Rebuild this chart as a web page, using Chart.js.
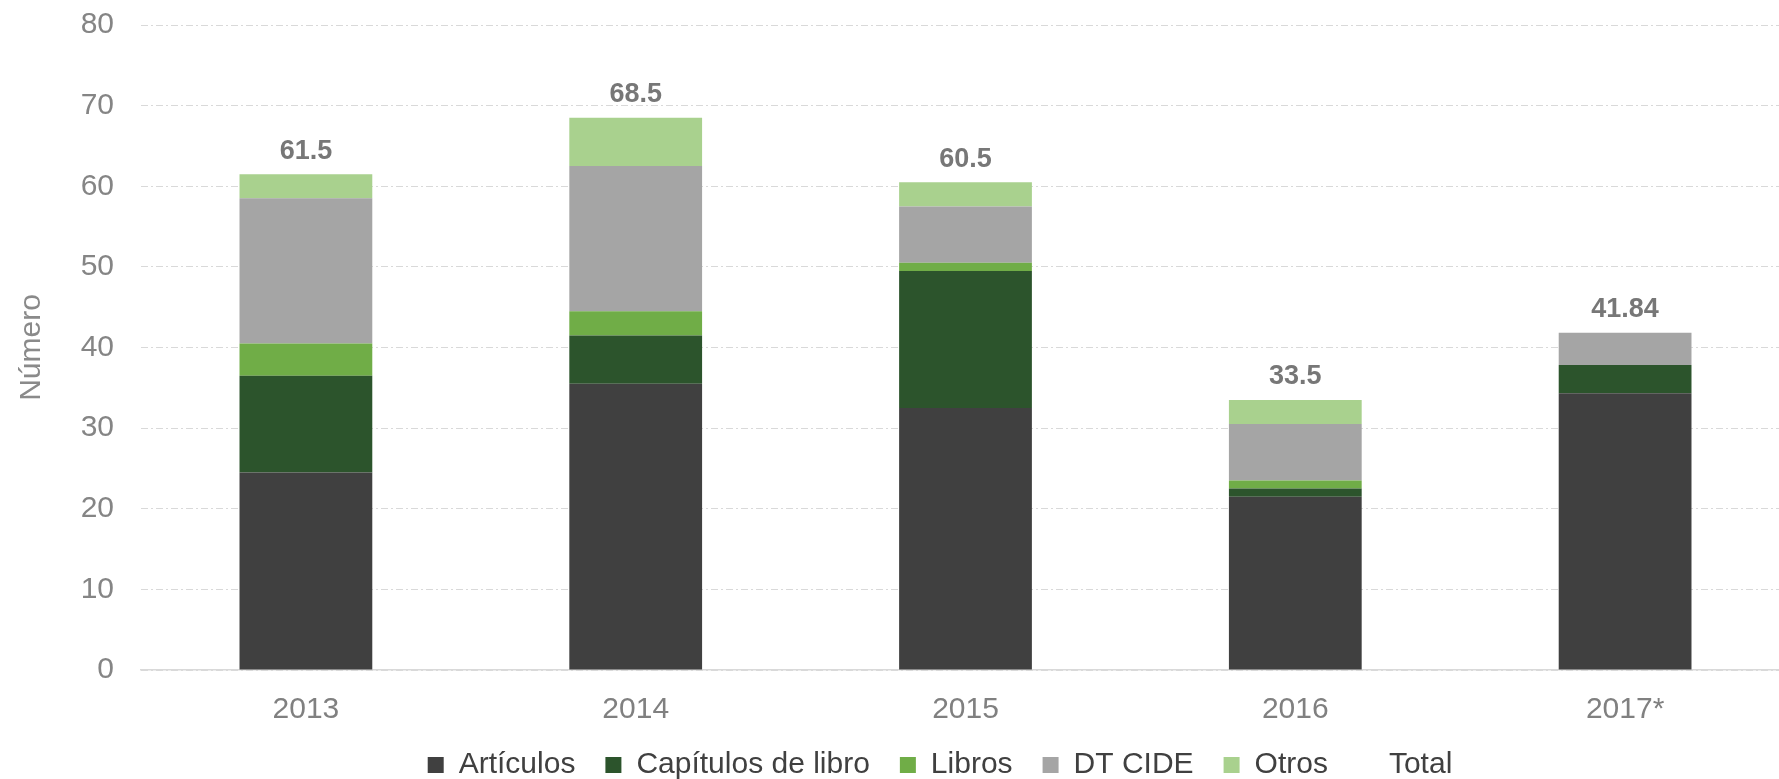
<!DOCTYPE html>
<html>
<head>
<meta charset="utf-8">
<script src="https://cdn.jsdelivr.net/npm/chart.js@4.4.0/dist/chart.umd.min.js"></script>
<style>
  html, body { margin:0; padding:0; overflow:hidden; background:#fff; }
  #wrap { width:1790px; height:779px; }
</style>
</head>
<body>
<div id="wrap"><canvas id="pubChart" width="1790" height="779"></canvas></div>
<script>
const years = ['2013', '2014', '2015', '2016', '2017*'];
const articulos = [24.5, 35.5, 32.5, 21.5, 34.34];
const capitulos = [12, 6, 17, 1, 3.5];
const libros = [4, 3, 1, 1, 0];
const dtCide = [18, 18, 7, 7, 4];
const otros = [3, 6, 3, 3, 0];
const totals = [61.5, 68.5, 60.5, 33.5, 41.84];
const yTicks = [0, 10, 20, 30, 40, 50, 60, 70, 80];

const FONT = "'Liberation Sans', Arial, sans-serif";

// totals printed above each stack
const totalLabels = {
  id: 'totalLabels',
  afterDatasetsDraw(chart){
    const meta = chart.getDatasetMeta(5);
    const ctx = chart.ctx;
    ctx.save();
    ctx.font = 'bold 27px ' + FONT;
    ctx.fillStyle = '#777777';
    ctx.textAlign = 'center';
    ctx.textBaseline = 'middle';
    meta.data.forEach((pt, i) => {
      ctx.fillText(String(totals[i]), pt.x, pt.y - 23);
    });
    ctx.restore();
  }
};

// legend: fixed height, and moved to where it sits in the original
const legendPlace = {
  id: 'legendPlace',
  afterInit(chart){
    const lg = chart.legend;
    const fit = lg.fit.bind(lg);
    lg.fit = function(){ fit(); this.height = 51; };
  },
  afterLayout(chart){
    const lg = chart.legend;
    lg.left += 45; lg.right += 45;
    lg.top = 765 - 30 - 15;
    lg.bottom = 800;
  }
};

const ds = (label, data, color) => ({
  label, data, backgroundColor: color, borderWidth: 0,
  barPercentage: 0.4026, categoryPercentage: 1, stack: 's'
});

new Chart(document.getElementById('pubChart'), {
  type: 'bar',
  data: {
    labels: years,
    datasets: [
      ds('Artículos', articulos, '#404040'),
      ds('Capítulos de libro', capitulos, '#2c542c'),
      ds('Libros', libros, '#70ad47'),
      ds('DT CIDE', dtCide, '#a5a5a5'),
      ds('Otros', otros, '#a9d18e'),
      {
        type: 'line', label: 'Total', data: totals,
        showLine: false, pointRadius: 0,
        borderColor: 'rgba(0,0,0,0)', backgroundColor: 'rgba(0,0,0,0)',
        stack: 'total'
      }
    ]
  },
  options: {
    responsive: false,
    animation: false,
    layout: { padding: { top: 25, left: 0, right: 0, bottom: 0 } },
    plugins: {
      tooltip: { enabled: false },
      legend: {
        position: 'bottom',
        labels: {
          font: { family: FONT, size: 30 },
          color: '#404040',
          boxWidth: 16, boxHeight: 16,
          padding: 30
        }
      }
    },
    scales: {
      x: {
        stacked: true,
        grid: { display: false, drawTicks: false },
        border: { display: true, color: '#d9d9d9', width: 1.5 },
        ticks: { font: { family: FONT, size: 30 }, color: '#808080', padding: 22 },
        afterFit(s){ s.height = 58; s.paddingLeft = 0; s.paddingRight = 0; }
      },
      y: {
        stacked: true,
        min: 0, max: 80,
        afterBuildTicks(s){ s.ticks = yTicks.map(v => ({ value: v })); },
        afterFit(s){ s.width = 141; s.paddingTop = 0; s.paddingBottom = 0; },
        grid: { color: '#d9d9d9', lineWidth: 1, drawTicks: false },
        border: { display: false, dash: [7, 3, 2, 3] },
        ticks: { font: { family: FONT, size: 30 }, color: '#858585', padding: 27 },
        title: {
          display: true, text: 'Número',
          font: { family: FONT, size: 30 }, color: '#8a8a8a',
          padding: { top: 14, bottom: 0 }
        }
      }
    }
  },
  plugins: [totalLabels, legendPlace]
});
</script>
</body>
</html>
